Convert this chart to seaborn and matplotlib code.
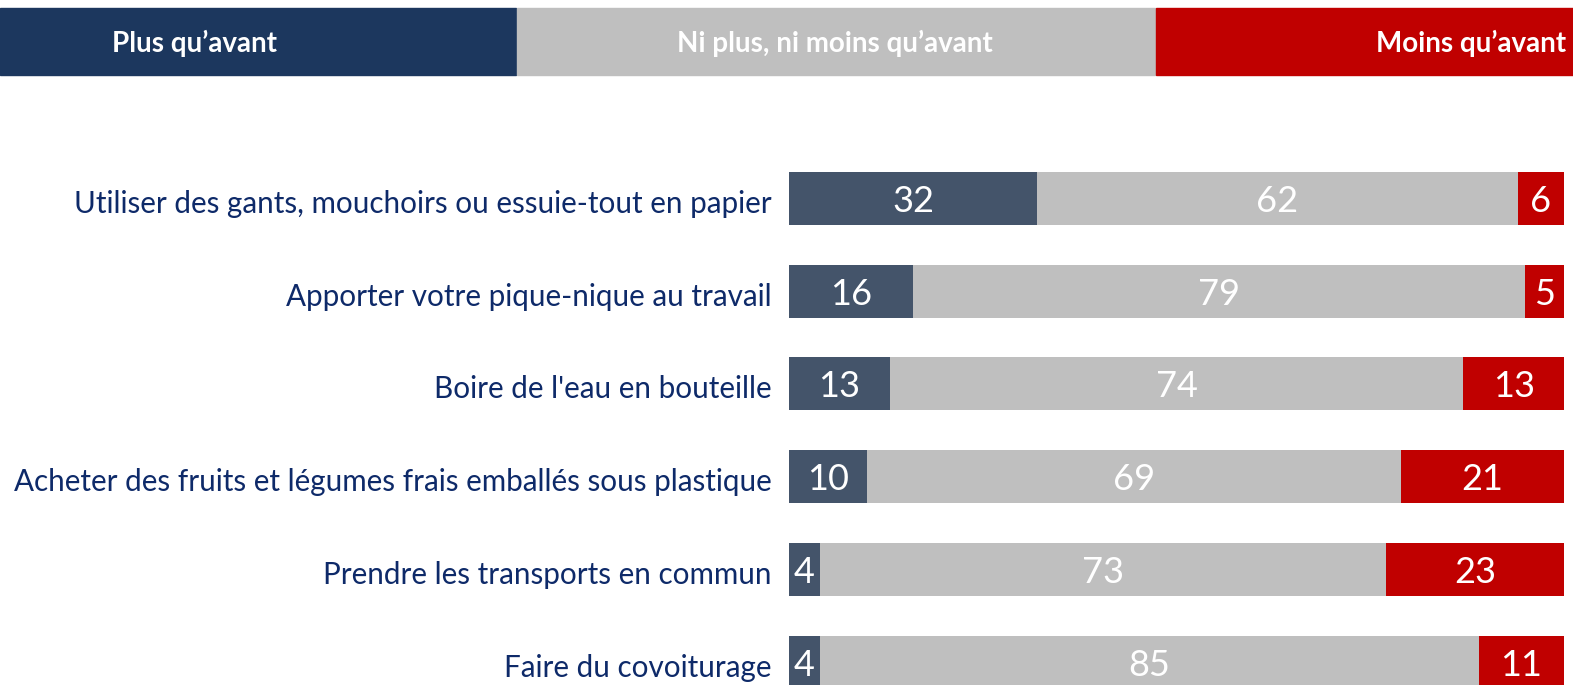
import matplotlib
matplotlib.use("Agg")
import matplotlib.pyplot as plt
import matplotlib.transforms as mtransforms
import seaborn as sns
import pandas as pd
import numpy as np
from matplotlib.patches import Rectangle

categories = [
    "Utiliser des gants, mouchoirs ou essuie-tout en papier",
    "Apporter votre pique-nique au travail",
    "Boire de l'eau en bouteille",
    "Acheter des fruits et légumes frais emballés sous plastique",
    "Prendre les transports en commun",
    "Faire du covoiturage",
]
plus = [32, 16, 13, 10, 4, 4]
ni = [62, 79, 74, 69, 73, 85]
moins = [6, 5, 13, 21, 23, 11]
series_names = ["Plus qu\u2019avant", "Ni plus, ni moins qu\u2019avant", "Moins qu\u2019avant"]

NAVY_HDR = "#1C375E"
NAVY_BAR = "#44546A"
GRAY = "#BFBFBF"
RED = "#C00000"
LABEL = "#0E2A69"
FONT = ["Lato", "DejaVu Sans"]

sns.set_theme(style="white")
plt.rcParams["font.family"] = FONT

W, H = 1573, 685
fig = plt.figure(figsize=(W / 100, H / 100), dpi=100)

df = pd.DataFrame({"cat": categories, "plus": plus, "ni": ni, "moins": moins})
df["c1"] = df["plus"]
df["c2"] = df["plus"] + df["ni"]
df["c3"] = df["plus"] + df["ni"] + df["moins"]

x0, x1 = 789, 1564
ax = fig.add_axes([x0 / W, 0, (x1 - x0) / W, 1])
bw = 0.57
sns.barplot(data=df, y="cat", x="c3", color=RED, orient="h", width=bw, ax=ax, saturation=1, linewidth=0)
sns.barplot(data=df, y="cat", x="c2", color=GRAY, orient="h", width=bw, ax=ax, saturation=1, linewidth=0)
sns.barplot(data=df, y="cat", x="c1", color=NAVY_BAR, orient="h", width=bw, ax=ax, saturation=1, linewidth=0)

step = 92.7
top_c = 198.5
ax.set_ylim(5 + (H - (top_c + 5 * step)) / step, -top_c / step)
ax.set_xlim(0, 100)
for s in ax.spines.values():
    s.set_visible(False)
ax.set_xticks([])
ax.set_xlabel("")
ax.set_ylabel("")
ax.tick_params(axis="y", length=0, pad=12.5, labelsize=21.3, labelcolor=LABEL)
shift = mtransforms.ScaledTranslation(0, -3 / 100, fig.dpi_scale_trans)
for lbl in ax.get_yticklabels():
    lbl.set_transform(lbl.get_transform() + shift)

for i in range(len(categories)):
    segs = [(0, plus[i]), (plus[i], plus[i] + ni[i]), (plus[i] + ni[i], plus[i] + ni[i] + moins[i])]
    vals = [plus[i], ni[i], moins[i]]
    for (a, b), v in zip(segs, vals):
        t = ax.text((a + b) / 2, i, str(v), ha="center", va="center", color="white",
                    fontsize=26, family=FONT)
        t.set_transform(ax.transData + shift)

# header band
hy0, hy1 = 8, 75
hdr = [(0, 516, NAVY_HDR), (517, 1155, GRAY), (1156, W, RED)]
for (a, b, c) in hdr:
    fig.patches.append(Rectangle((a / W, 1 - hy1 / H), (b - a) / W, (hy1 - hy0) / H,
                                 transform=fig.transFigure, color=c, zorder=0))
yc = 1 - ((hy0 + hy1) / 2 + 2) / H
fig.text(195 / W, yc, series_names[0], ha="center", va="center", color="white",
         fontsize=20, fontweight="bold", family=FONT)
fig.text(835 / W, yc, series_names[1], ha="center", va="center", color="white",
         fontsize=20, fontweight="bold", family=FONT)
fig.text(1566 / W, yc, series_names[2], ha="right", va="center", color="white",
         fontsize=20, fontweight="bold", family=FONT)

fig.savefig("out.png", dpi=100)
